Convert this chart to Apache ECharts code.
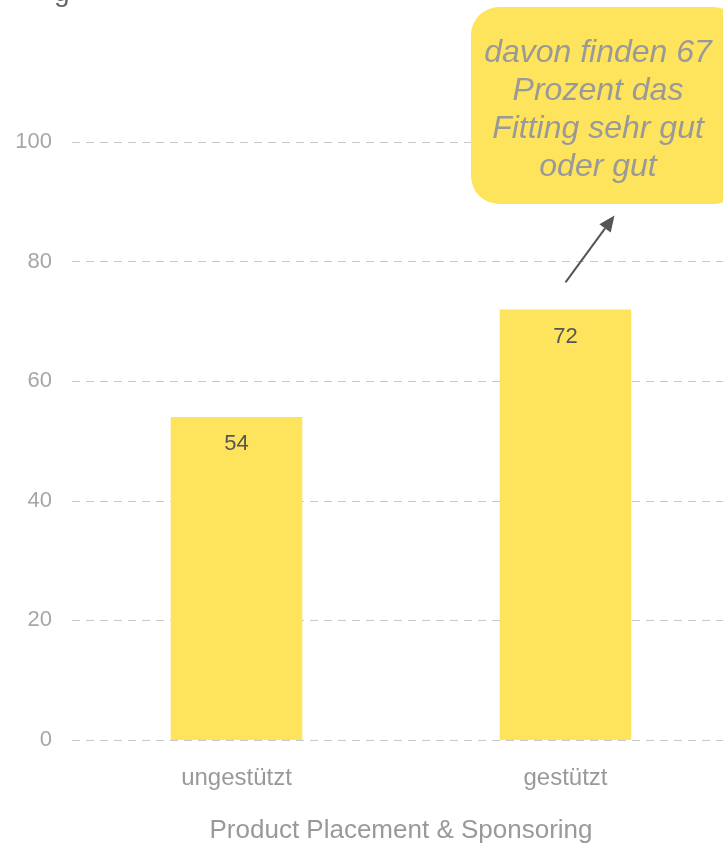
<!DOCTYPE html>
<html>
<head>
<meta charset="utf-8">
<script src="https://cdn.jsdelivr.net/npm/echarts@6/dist/echarts.min.js"></script>
<style>
  html, body { margin: 0; padding: 0; background: #fff; }
  #view { width: 723px; height: 847px; }
</style>
</head>
<body>
<div id="view"></div>
<script>
// chart data
let categories = ["ungestützt", "gestützt"];
let values = [54, 72];
let yTicks = [0, 20, 40, 60, 80, 100];
let axisName = "Product Placement & Sponsoring";
let note = "davon finden 67\nProzent das\nFitting sehr gut\noder gut";

let myChart = echarts.init(document.getElementById("view"));

let option = {
  backgroundColor: "#fff",
  animation: false,
  grid: {
    left: 72,
    width: 658,
    top: 142,
    bottom: 107,
    containLabel: false,
    outerBoundsMode: "none",
  },
  xAxis: {
    type: "category",
    data: categories,
    name: axisName,
    nameLocation: "middle",
    nameGap: 78,
    nameTextStyle: { color: "#999", fontSize: 26, fontFamily: "Liberation Sans" },
    axisLine: { show: false },
    axisTick: { show: false },
    axisLabel: { color: "#999", fontSize: 24, margin: 26, fontFamily: "Liberation Sans" },
  },
  yAxis: {
    type: "value",
    min: yTicks[0],
    max: yTicks[yTicks.length - 1],
    interval: 20,
    axisLine: { show: false },
    axisTick: { show: false },
    axisLabel: { color: "#a6a6a6", fontSize: 22, margin: 20, fontFamily: "Liberation Sans" },
    splitLine: {
      lineStyle: { color: "#c8c8c8", type: [8, 6], width: 1 },
    },
  },
  series: [
    {
      type: "bar",
      data: values,
      barWidth: "40%",
      itemStyle: { color: "#fee45c" },
      label: {
        show: true,
        position: "insideTop",
        distance: 16,
        color: "#555",
        fontSize: 22,
        fontFamily: "Liberation Sans",
      },
    },
  ],
};
myChart.setOption(option);

// annotation, placed relative to the second bar
let barTop = myChart.convertToPixel({ xAxisIndex: 0, yAxisIndex: 0 }, [1, values[1]]);
let start = [barTop[0], barTop[1] - 27];
let end = [barTop[0] + 49, barTop[1] - 94];
let ang = Math.atan2(end[1] - start[1], end[0] - start[0]);
let head = 16;
let hw = 7;
let bx = end[0] - head * Math.cos(ang);
let by = end[1] - head * Math.sin(ang);
let px = -Math.sin(ang);
let py = Math.cos(ang);

myChart.setOption({
  graphic: [
    {
      type: "text",
      left: 54,
      top: -21,
      style: { text: "g", fill: "#666", font: "28px 'Liberation Sans'" },
    },
    {
      type: "rect",
      shape: { x: 471, y: 7, width: 270, height: 197, r: 28 },
      style: { fill: "#fee45c" },
    },
    {
      type: "text",
      x: 598,
      y: 110,
      style: {
        text: note,
        fill: "#999",
        font: "italic 32px 'Liberation Sans'",
        align: "center",
        verticalAlign: "middle",
        lineHeight: 38,
      },
    },
    {
      type: "line",
      shape: { x1: start[0], y1: start[1], x2: bx, y2: by },
      style: { stroke: "#555", lineWidth: 2 },
    },
    {
      type: "polygon",
      shape: {
        points: [
          end,
          [bx + px * hw, by + py * hw],
          [bx - px * hw, by - py * hw],
        ],
      },
      style: { fill: "#555" },
    },
  ],
});
</script>
</body>
</html>
